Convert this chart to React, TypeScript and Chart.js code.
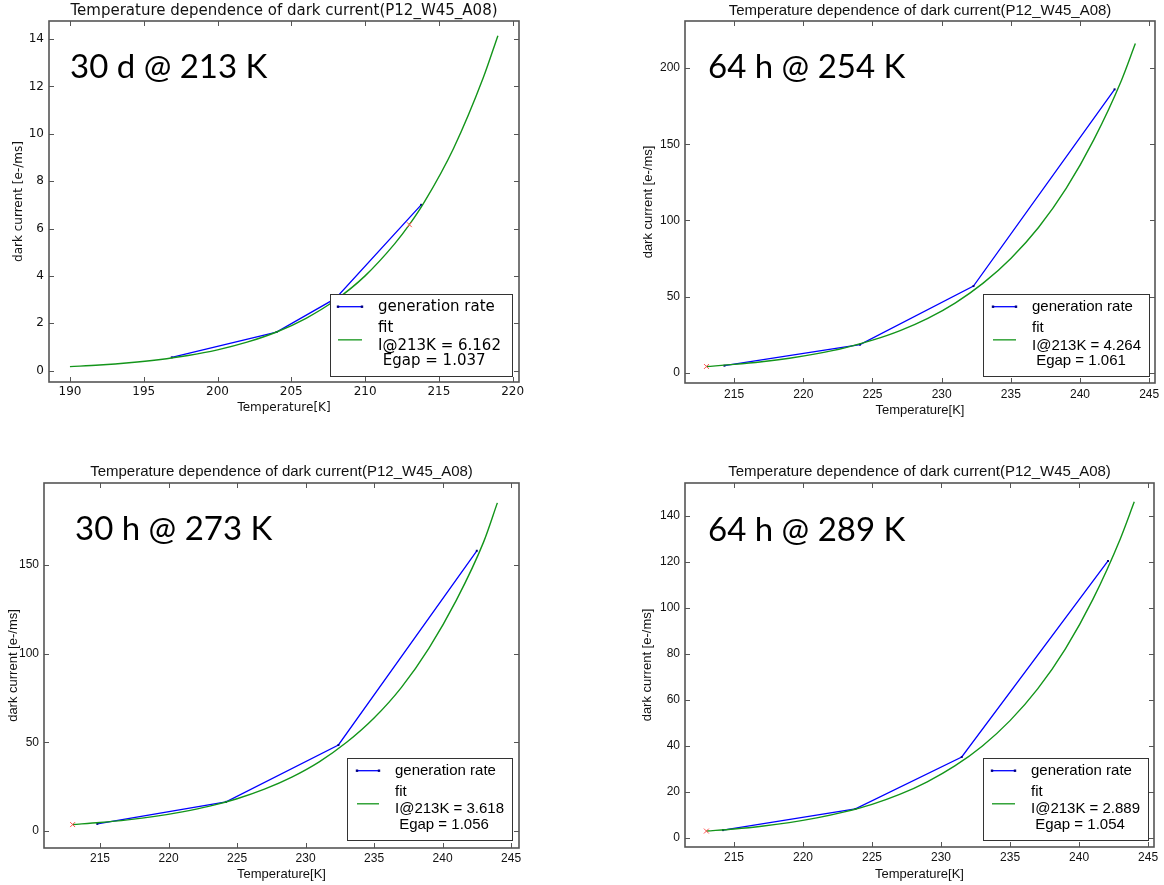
import React, { useEffect, useRef } from 'react';
import { Chart, registerables } from 'chart.js';

Chart.register(...registerables);

// ---------- Panel 1: 30 d @ 213 K ----------
const p1RateT = [196.9, 204.0, 208.0, 213.8];
const p1RateI = [0.56, 1.63, 3.05, 7.0];
const p1FitT = [190, 192, 194, 196, 198, 200, 202, 204, 206, 208, 210, 212, 213, 214, 216, 218, 219];
const p1FitI = [0.17, 0.238, 0.333, 0.462, 0.638, 0.877, 1.2, 1.63, 2.21, 2.98, 4.0, 5.35, 6.16, 7.1, 9.39, 12.35, 14.14];
const p1RefT = [213];
const p1RefI = [6.162];
const p1XTicks = [190, 195, 200, 205, 210, 215, 220];
const p1YTicks = [0, 2, 4, 6, 8, 10, 12, 14];
const p1Legend = ['generation rate', 'fit', 'I@213K = 6.162', ' Egap = 1.037'];

// ---------- Panel 2: 64 h @ 254 K ----------
const p2RateT = [214.3, 224.1, 232.3, 242.5];
const p2RateI = [4.8, 18.6, 57.0, 186.0];
const p2FitT = [213, 215, 217, 219, 221, 223, 225, 227, 229, 231, 233, 235, 237, 239, 241, 243, 244];
const p2FitI = [4.26, 5.63, 7.4, 9.71, 12.7, 16.5, 21.5, 27.8, 35.8, 46.0, 58.9, 75.1, 95.4, 121, 153, 192, 216];
const p2RefT = [213];
const p2RefI = [4.264];
const p2XTicks = [215, 220, 225, 230, 235, 240, 245];
const p2YTicks = [0, 50, 100, 150, 200];
const p2Legend = ['generation rate', 'fit', 'I@213K = 4.264', ' Egap = 1.061'];

// ---------- Panel 3: 30 h @ 273 K ----------
const p3RateT = [214.8, 224.2, 232.4, 242.5];
const p3RateI = [4.0, 16.4, 48.5, 158.0];
const p3FitT = [213, 215, 217, 219, 221, 223, 225, 227, 229, 231, 233, 235, 237, 239, 241, 243, 244];
const p3FitI = [3.62, 4.78, 6.28, 8.24, 10.8, 14.0, 18.2, 23.6, 30.4, 39.0, 50.0, 63.7, 81.0, 103, 130, 163, 185];
const p3RefT = [213];
const p3RefI = [3.618];
const p3XTicks = [215, 220, 225, 230, 235, 240, 245];
const p3YTicks = [0, 50, 100, 150];
const p3Legend = ['generation rate', 'fit', 'I@213K = 3.618', ' Egap = 1.056'];

// ---------- Panel 4: 64 h @ 289 K ----------
const p4RateT = [214.2, 223.8, 231.5, 242.1];
const p4RateI = [3.3, 12.5, 35.1, 120.3];
const p4FitT = [213, 215, 217, 219, 221, 223, 225, 227, 229, 231, 233, 235, 237, 239, 241, 243, 244];
const p4FitI = [2.89, 3.81, 5.01, 6.58, 8.6, 11.2, 14.5, 18.8, 24.3, 31.2, 39.9, 50.9, 64.7, 82.0, 103.6, 130.1, 146];
const p4RefT = [213];
const p4RefI = [2.889];
const p4XTicks = [215, 220, 225, 230, 235, 240, 245];
const p4YTicks = [0, 20, 40, 60, 80, 100, 120, 140];
const p4Legend = ['generation rate', 'fit', 'I@213K = 2.889', ' Egap = 1.054'];

const TITLE = 'Temperature dependence of dark current(P12_W45_A08)';

type Panel = {
  key: string;
  cx: number; cy: number; cw: number; ch: number;
  area: { l: number; t: number; r: number; b: number };
  xMin: number; xMax: number; yMin: number; yMax: number;
  xTicks: number[]; yTicks: number[];
  rateT: number[]; rateI: number[];
  fitT: number[]; fitI: number[];
  refT: number[]; refI: number[];
  legendTexts: string[];
  legend: { l: number; t: number; r: number; b: number; textX: number; lx1: number; lx2: number; rows: number[] };
  label: string; labelX: number; labelY: number;
  family: string; titleSize: number; tickSize: number; axisSize: number; legendSize: number;
  titleY: number; yTitleX: number; xTitleY: number; xTickPad: number;
};

const panels: Panel[] = [
  {
    key: 'p1', cx: 0, cy: 0, cw: 582, ch: 442,
    area: { l: 49, t: 21, r: 519, b: 382 },
    xMin: 188.58, xMax: 220.43, yMin: -0.48, yMax: 14.76,
    xTicks: p1XTicks, yTicks: p1YTicks,
    rateT: p1RateT, rateI: p1RateI, fitT: p1FitT, fitI: p1FitI, refT: p1RefT, refI: p1RefI,
    legendTexts: p1Legend,
    legend: { l: 330, t: 294, r: 512, b: 376, textX: 378, lx1: 338, lx2: 362, rows: [306.7, 328, 345.7, 361] },
    label: '30 d @ 213 K', labelX: 70, labelY: 67,
    family: '"DejaVu Sans"', titleSize: 15, tickSize: 12, axisSize: 12, legendSize: 15,
    titleY: 11, yTitleX: 18.5, xTitleY: 408, xTickPad: 3,
  },
  {
    key: 'p2', cx: 582, cy: 0, cw: 582, ch: 442,
    area: { l: 685, t: 21, r: 1155, b: 383 },
    xMin: 211.45, xMax: 245.42, yMin: -6.56, yMax: 230.8,
    xTicks: p2XTicks, yTicks: p2YTicks,
    rateT: p2RateT, rateI: p2RateI, fitT: p2FitT, fitI: p2FitI, refT: p2RefT, refI: p2RefI,
    legendTexts: p2Legend,
    legend: { l: 983, t: 294, r: 1149, b: 376, textX: 1032, lx1: 993, lx2: 1016, rows: [306.7, 328, 345.7, 361] },
    label: '64 h @ 254 K', labelX: 708, labelY: 67,
    family: '"Liberation Sans", Arial', titleSize: 15, tickSize: 12, axisSize: 13, legendSize: 15,
    titleY: 11, yTitleX: 648, xTitleY: 410, xTickPad: 4,
  },
  {
    key: 'p3', cx: 0, cy: 442, cw: 582, ch: 443,
    area: { l: 44, t: 483, r: 519, b: 848 },
    xMin: 210.91, xMax: 245.58, yMin: -9.59, yMax: 196.2,
    xTicks: p3XTicks, yTicks: p3YTicks,
    rateT: p3RateT, rateI: p3RateI, fitT: p3FitT, fitI: p3FitI, refT: p3RefT, refI: p3RefI,
    legendTexts: p3Legend,
    legend: { l: 347, t: 758, r: 512, b: 840, textX: 395, lx1: 357, lx2: 379, rows: [770.7, 792.3, 809.3, 825] },
    label: '30 h @ 273 K', labelX: 75, labelY: 529,
    family: '"Liberation Sans", Arial', titleSize: 15, tickSize: 12, axisSize: 13, legendSize: 15,
    titleY: 472, yTitleX: 13, xTitleY: 874, xTickPad: 3,
  },
  {
    key: 'p4', cx: 582, cy: 442, cw: 582, ch: 443,
    area: { l: 685, t: 483, r: 1154, b: 847 },
    xMin: 211.45, xMax: 245.43, yMin: -4.04, yMax: 154.2,
    xTicks: p4XTicks, yTicks: p4YTicks,
    rateT: p4RateT, rateI: p4RateI, fitT: p4FitT, fitI: p4FitI, refT: p4RefT, refI: p4RefI,
    legendTexts: p4Legend,
    legend: { l: 983, t: 758, r: 1148, b: 840, textX: 1031, lx1: 992, lx2: 1015, rows: [770.7, 792.3, 809.3, 825] },
    label: '64 h @ 289 K', labelX: 708, labelY: 530,
    family: '"Liberation Sans", Arial', titleSize: 15, tickSize: 12, axisSize: 13, legendSize: 15,
    titleY: 472, yTitleX: 647, xTitleY: 874, xTickPad: 3,
  },
];

const FRAME = '#555555';
const BLUE = '#0000ff';
const GREEN = '#13951a';
const MARK = '#000080';

function toXY(xs: number[], ys: number[]) {
  return xs.map((x, i) => ({ x, y: ys[i] }));
}

function buildConfig(p: Panel): any {
  const yW = p.area.l - p.cx;
  const xH = p.cy + p.ch - p.area.b;
  const padTop = p.area.t - p.cy;
  const padRight = p.cx + p.cw - p.area.r;
  const axisLH = p.axisSize * 1.2;

  const overlay = {
    id: 'overlay_' + p.key,
    afterDatasetsDraw(chart: any) {
      const ctx = chart.ctx as CanvasRenderingContext2D;
      const L = p.legend;
      const ox = p.cx, oy = p.cy;
      ctx.save();
      ctx.fillStyle = '#ffffff';
      ctx.fillRect(L.l - ox, L.t - oy, L.r - L.l, L.b - L.t);
      ctx.strokeStyle = '#333333';
      ctx.lineWidth = 1;
      ctx.strokeRect(Math.round(L.l - ox) + 0.5, Math.round(L.t - oy) + 0.5, Math.round(L.r - L.l), Math.round(L.b - L.t));
      const y0 = L.rows[0] - oy;
      ctx.strokeStyle = BLUE;
      ctx.lineWidth = 1.3;
      ctx.beginPath();
      ctx.moveTo(L.lx1 - ox, y0);
      ctx.lineTo(L.lx2 - ox, y0);
      ctx.stroke();
      ctx.fillStyle = MARK;
      ctx.fillRect(L.lx1 - ox - 1.2, y0 - 1.2, 2.4, 2.4);
      ctx.fillRect(L.lx2 - ox - 1.2, y0 - 1.2, 2.4, 2.4);
      const yg = (L.rows[1] + L.rows[2]) / 2 + 3 - oy;
      ctx.strokeStyle = GREEN;
      ctx.beginPath();
      ctx.moveTo(L.lx1 - ox, yg);
      ctx.lineTo(L.lx2 - ox, yg);
      ctx.stroke();
      ctx.fillStyle = '#000000';
      ctx.font = `${p.legendSize}px ${p.family}`;
      ctx.textBaseline = 'middle';
      ctx.textAlign = 'left';
      p.legendTexts.forEach((t, i) => ctx.fillText(t, L.textX - ox, L.rows[i] - oy));
      ctx.restore();
    },
    afterDraw(chart: any) {
      const ctx = chart.ctx as CanvasRenderingContext2D;
      const a = chart.chartArea;
      const xs = chart.scales.x;
      const ys = chart.scales.y;
      ctx.save();
      ctx.strokeStyle = FRAME;
      ctx.lineWidth = 1;
      ctx.beginPath();
      p.xTicks.forEach((v) => {
        const px = Math.round(xs.getPixelForValue(v)) + 0.5;
        ctx.moveTo(px, a.bottom);
        ctx.lineTo(px, a.bottom - 5);
        ctx.moveTo(px, a.top);
        ctx.lineTo(px, a.top + 5);
      });
      p.yTicks.forEach((v) => {
        const py = Math.round(ys.getPixelForValue(v)) + 0.5;
        ctx.moveTo(a.left, py);
        ctx.lineTo(a.left + 5, py);
        ctx.moveTo(a.right, py);
        ctx.lineTo(a.right - 5, py);
      });
      ctx.stroke();
      ctx.lineWidth = 1.6;
      ctx.strokeRect(a.left, a.top, a.right - a.left, a.bottom - a.top);
      ctx.fillStyle = '#111111';
      ctx.font = `${p.titleSize}px ${p.family}`;
      ctx.textAlign = 'center';
      ctx.textBaseline = 'middle';
      ctx.fillText(TITLE, (a.left + a.right) / 2, p.titleY - p.cy);
      ctx.fillStyle = '#000000';
      ctx.font = '33px Lato';
      ctx.textAlign = 'left';
      ctx.fillText(p.label, p.labelX - p.cx, p.labelY - p.cy);
      ctx.restore();
    },
  };

  return {
    type: 'line',
    data: {
      datasets: [
        {
          label: 'ref',
          data: toXY(p.refT, p.refI),
          showLine: false,
          pointStyle: 'crossRot',
          pointRadius: 3.5,
          pointBorderColor: '#ff5050',
          pointBorderWidth: 1,
          borderColor: '#ff5050',
        },
        {
          label: 'fit',
          data: toXY(p.fitT, p.fitI),
          borderColor: GREEN,
          borderWidth: 1.4,
          pointRadius: 0,
          cubicInterpolationMode: 'monotone',
          fill: false,
        },
        {
          label: 'generation rate',
          data: toXY(p.rateT, p.rateI),
          borderColor: BLUE,
          borderWidth: 1.3,
          pointStyle: 'rect',
          pointRadius: 1.4,
          pointBackgroundColor: MARK,
          pointBorderColor: MARK,
          pointBorderWidth: 0,
          tension: 0,
          fill: false,
        },
      ],
    },
    options: {
      responsive: false,
      animation: false,
      events: [],
      layout: { padding: { left: 0, top: padTop, right: padRight, bottom: 0 } },
      plugins: { legend: { display: false }, title: { display: false }, tooltip: { enabled: false } },
      scales: {
        x: {
          type: 'linear',
          min: p.xMin,
          max: p.xMax,
          afterBuildTicks: (s: any) => { s.ticks = p.xTicks.map((v) => ({ value: v })); },
          afterFit: (s: any) => { s.height = xH; },
          grid: { display: false, drawTicks: false },
          border: { display: false },
          ticks: { padding: p.xTickPad, color: '#111111', font: { family: p.family, size: p.tickSize }, maxRotation: 0, autoSkip: false, callback: (v: any) => String(v) },
          title: {
            display: true, text: 'Temperature[K]', color: '#111111',
            font: { family: p.family, size: p.axisSize },
            padding: { top: 0, bottom: (p.cy + p.ch - p.xTitleY) - axisLH / 2 },
          },
        },
        y: {
          type: 'linear',
          min: p.yMin,
          max: p.yMax,
          afterBuildTicks: (s: any) => { s.ticks = p.yTicks.map((v) => ({ value: v })); },
          afterFit: (s: any) => { s.width = yW; },
          grid: { display: false, drawTicks: false },
          border: { display: false },
          ticks: { padding: 5, color: '#111111', font: { family: p.family, size: p.tickSize }, autoSkip: false, callback: (v: any) => String(v) },
          title: {
            display: true, text: 'dark current [e-/ms]', color: '#111111',
            font: { family: p.family, size: p.axisSize },
            padding: { top: (p.yTitleX - p.cx) - axisLH / 2, bottom: 0 },
          },
        },
      },
    },
    plugins: [overlay],
  };
}

function PanelChart({ cfg }: { cfg: Panel }) {
  const ref = useRef<HTMLCanvasElement | null>(null);
  useEffect(() => {
    if (!ref.current) return;
    const chart = new Chart(ref.current, buildConfig(cfg));
    return () => chart.destroy();
  }, [cfg]);
  return (
    <canvas
      ref={ref}
      width={cfg.cw}
      height={cfg.ch}
      style={{ position: 'absolute', left: cfg.cx, top: cfg.cy, width: cfg.cw, height: cfg.ch }}
    />
  );
}

export default function App() {
  return (
    <div style={{ position: 'fixed', left: 0, top: 0, width: 1164, height: 885, background: '#ffffff', overflow: 'hidden' }}>
      {panels.map((p) => (
        <PanelChart key={p.key} cfg={p} />
      ))}
    </div>
  );
}
